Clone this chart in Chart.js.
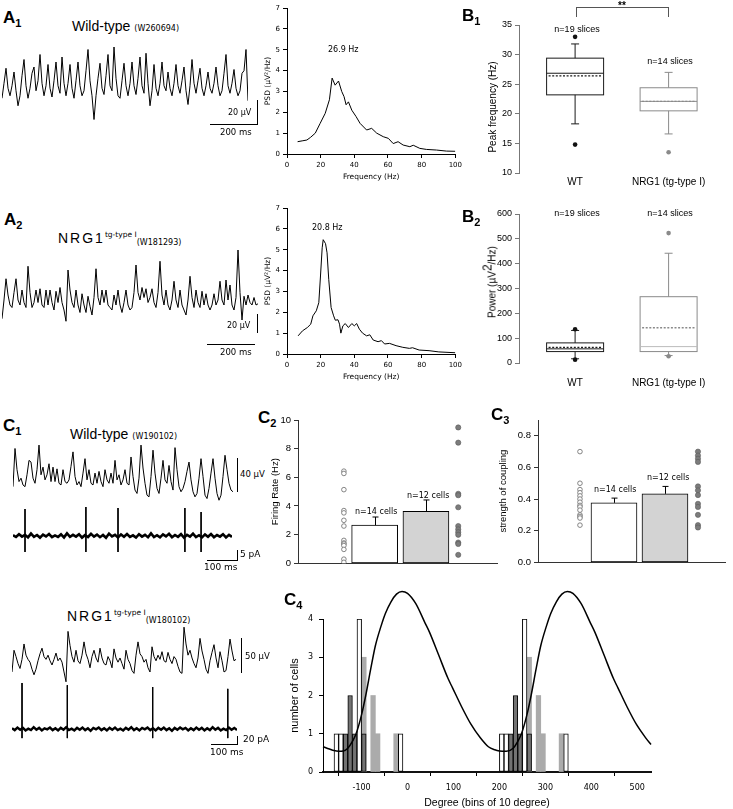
<!DOCTYPE html>
<html><head><meta charset="utf-8">
<script src="https://cdn.jsdelivr.net/npm/chart.js@4.4.1/dist/chart.umd.min.js"></script>
<style>
html,body{margin:0;padding:0;background:#fff}
body{width:733px;height:809px;position:relative;overflow:hidden}
canvas{position:absolute}
.t{position:absolute;white-space:nowrap;color:#000;line-height:1}
</style></head><body>
<script>
// ---------------- DATA ----------------
// A1 / A2 LFP traces (µV), uniform sampling
const a1Dt = 8.5; // ms per sample
const a1Trace = [0,12,24,8,2,10,21,6,-6,2,18,31,10,0,8,20,25,6,14,35,12,2,10,27,8,1,14,29,10,4,33,12,2,12,27,8,0,14,29,10,2,6,22,39,14,2,-17,2,16,28,8,3,18,35,10,6,41,16,2,0,14,28,10,2,12,29,10,3,16,33,10,4,36,12,-6,6,27,8,2,12,29,10,6,21,8,2,12,27,10,4,14,25,6,-5,10,31,12,4,14,24,8,2,10,21,8,4,12,25,10,2,6,20,35,10,4,12,23,8,2,6,20,22,39,-2];
const a2Dt = 8.5;
const a2Trace = [-7,8,25,12,4,2,14,25,8,4,16,6,2,35,14,2,6,16,6,17,4,2,16,4,16,6,0,15,6,18,6,0,-9,32,16,6,2,16,4,-2,13,4,-2,11,3,-4,10,33,10,4,16,6,16,4,2,0,12,4,16,4,-2,6,16,4,0,2,14,36,14,8,18,10,17,6,10,17,6,2,14,39,12,4,16,4,0,8,23,8,2,16,4,0,-4,8,27,10,2,16,6,2,15,4,13,4,0,4,13,4,8,23,8,4,24,8,20,4,0,10,48,14,-8,11,4,12,6,4,10,4,5];
// PSD spectra
const a1Freq = [6.3,9,11.8,14,16.8,19.7,22.7,25.2,26.8,28.6,30.6,32.5,33.9,35.1,36.5,38.5,41,43.4,47.3,50.3,53.3,57.2,60.2,63.1,66,69,73,75,78.9,82.8,88.8,94.7,100];
const a1Psd  = [0.59,0.63,0.67,0.8,1.0,1.47,1.95,2.6,3.64,3.3,3.5,3.0,2.75,2.36,2.5,2.1,1.8,1.47,1.15,1.23,1.0,0.83,0.75,0.5,0.59,0.43,0.35,0.42,0.27,0.22,0.19,0.14,0.13];
const a2Freq = [6.6,9.2,12.1,14.1,15.4,17.4,18.9,19.9,20.9,21.5,22.9,23.8,24.8,26.2,27.7,28.7,30.3,31.2,32,33.2,34.6,36.5,38.5,40,41.4,43,44.9,47.3,49.2,51.2,54.1,56.1,58,60.9,64.8,68.8,72.7,74.6,78.5,84.4,90.2,100];
const a2Psd  = [0.87,1.11,1.27,1.43,1.83,2.07,2.46,3.74,5.09,5.48,5.29,4.85,3.58,2.23,1.83,1.62,1.64,1.43,1.0,1.35,1.46,1.27,1.46,1.35,1.46,1.19,1.0,0.87,0.92,0.67,0.59,0.64,0.48,0.51,0.4,0.32,0.27,0.3,0.19,0.16,0.1,0.06];
// B box plots
const bGroups = ['WT','NRG1 (tg-type I)'];
const b1Q1 = [23.2,20.5], b1Median = [26.85,22.1], b1Q3 = [29.4,24.4], b1Mean = [26.4,22.1], b1WhiskLo = [18.3,16.6], b1WhiskHi = [31.8,27.0];
const b1OutWT = [33.0,14.8], b1OutNRG = [13.5];
const b2Q1 = [46,46], b2Median = [57,66], b2Q3 = [81,267], b2Mean = [63,142], b2WhiskLo = [17,30], b2WhiskHi = [131,442];
const b2OutWT = [136,13.5], b2OutNRG = [523,27];
// C1 traces
const c1WtDt = 6.67;
const c1WtLfp = [0,45,20,6,10,2,0,14,31,29,10,4,20,49,14,23,8,14,27,6,23,6,21,4,2,20,6,4,8,24,41,12,2,6,0,16,33,8,20,4,2,16,4,18,6,0,20,8,4,16,4,31,8,14,2,8,20,4,2,35,12,-4,-8,10,49,22,4,-10,-12,12,43,16,-2,-8,10,31,8,4,25,6,-4,46,20,0,-6,-2,6,18,29,8,-6,-12,-8,10,33,12,-10,-14,-2,16,33,10,-8,-16,-10,12,37,20,4,-4,-6];
const c1NrgDt = 7.4;
const c1NrgLfp = [-10,21,12,2,-5,8,30,14,8,4,-6,-14,-6,6,16,24,12,8,14,6,0,8,17,6,10,4,-10,-24,48,28,12,4,21,6,2,14,33,16,8,-4,12,21,10,4,24,10,2,0,12,6,-4,23,10,4,10,2,-6,21,8,2,-8,-12,14,33,16,12,4,8,-4,-10,26,12,6,14,8,19,6,4,18,8,2,12,8,-2,-10,-12,54,30,14,21,10,2,-4,10,38,20,8,-6,-12,6,18,29,10,-4,19,6,-10,-8,12,37,20,6,8];
const curDt = 10;
const wtCurNoise = [0.4,-0.5,0.9,-0.3,0.6,-0.7,1.2,-0.4,0.5,-0.8,0.7,-0.2,1.0,-0.6,0.3,-0.5,0.8,-0.7,1.3,-0.4,0.6,-0.3,0.9,-0.8,0.4,-0.5,1.1,-0.3,0.7,-0.6,0.5,-0.9,1.2,-0.2,0.6,-0.7,0.8,-0.4,1.0,-0.5,0.3,-0.8,0.9,-0.3,0.6,-0.6,1.3,-0.5,0.4,-0.7,0.8,-0.2,1.1,-0.6,0.5,-0.4,0.9,-0.8,0.6,-0.3,1.2,-0.5,0.4,-0.7,0.8,-0.4,1.0,-0.6,0.5,-0.3,0.9,-0.7,0.6,-0.4];
const wtSpikeT = [40,243,350,573,627], wtSpikeUp = [13.5,14.5,14,14,12], wtSpikeDn = [-8,-8,-8,-8,-8];
const nrgCurNoise = [2,-3,4,-2,3,-4,1,-3,5,-2,3,-4,2,-1,4,-3,2,-4,3,-2,5,-3,1,-4,3,-2,4,-3,2,-5,3,-1,4,-3,2,-4,3,-2,4,-3,1,-4,3,-2,5,-3,2,-4,3,-1,4,-3,2,-4,3,-2,4,-3,2,-5,3,-2,4,-1,3,-4,2,-3,4,-2,3,-4,2,-3,5,-2,3,-4,1,-3,4,-2,3,-3];
const nrgSpikeT = [37,204,519,796], nrgSpikeUp = [126,120,115,110], nrgSpikeDn = [-25,-25,-25,-25];
// C2 firing rate
const c2Mean = [2.66,3.63], c2Sem = [0.57,0.79];
const c2CellsWT = [6.43,6.27,5.14,3.68,3.52,3.0,2.6,1.6,1.42,1.35,1.24,0.97,0.29,0.07];
const c2CellsNRG = [9.48,8.42,4.85,4.75,3.91,2.6,2.37,2.17,1.99,1.45,1.35,0.59];
// C3 coupling
const c3Mean = [0.376,0.433], c3Sem = [0.03,0.047];
const c3CellsWT = [0.70,0.50,0.46,0.44,0.42,0.40,0.38,0.36,0.35,0.33,0.30,0.29,0.28,0.235];
const c3CellsNRG = [0.70,0.675,0.655,0.635,0.48,0.455,0.425,0.37,0.35,0.30,0.235,0.22];
// C4 phase histogram (bin centres, degrees) and fitted curve
const c4WhiteBins = [-155,-145,-105,-15,205,215,255,345], c4WhiteCounts = [1,1,4,1,1,1,4,1];
const c4DarkBins = [-135,-125,-115,-95,225,235,245,265], c4DarkCounts = [1,2,1,1,1,2,1,1];
const c4LightBins = [-95,-75,-65,-25,265,285,295,335], c4LightCounts = [3,2,1,1,3,2,1,1];
const c4CurveX = [-184,-170,-160,-150,-140,-130,-120,-112,-100,-91,-80,-70,-58,-48,-36,-24,-12,0,18,38,48,68,88,98,118,138,158,176,190,200,215,230,240,248,260,269,280,290,302,312,324,336,348,360,378,398,408,428,448,458,478,498,518,530];
const c4CurveY = [0.66,0.6,0.56,0.545,0.55,0.62,0.8,1.0,1.5,2.0,2.7,3.3,3.8,4.15,4.45,4.65,4.72,4.67,4.4,3.9,3.65,3.05,2.45,2.2,1.7,1.25,0.9,0.66,0.58,0.55,0.54,0.62,0.8,1.0,1.5,2.0,2.7,3.3,3.8,4.15,4.45,4.65,4.72,4.67,4.4,3.9,3.65,3.05,2.45,2.2,1.7,1.25,0.9,0.72];

// ---------------- SETUP ----------------
const FS = "'Liberation Sans', Arial, sans-serif";
const FD = "'DejaVu Sans', Verdana, sans-serif";
Chart.defaults.font.family = FS;
Chart.defaults.color = '#000';
Chart.defaults.animation = false;
Chart.defaults.responsive = false;
Chart.defaults.maintainAspectRatio = false;
Chart.defaults.devicePixelRatio = 1;
Chart.defaults.plugins.legend.display = false;
Chart.defaults.plugins.tooltip.enabled = false;

function cv(b){const c=document.createElement('canvas');c.width=b[2];c.height=b[3];c.style.left=b[0]+'px';c.style.top=b[1]+'px';c.style.width=b[2]+'px';c.style.height=b[3]+'px';document.body.appendChild(c);return c;}
function T(x,y,html,css){const d=document.createElement('div');d.className='t';d.style.left=x+'px';d.style.top=y+'px';if(css)d.style.cssText+=css;d.innerHTML=html;document.body.appendChild(d);return d;}
function L(x,y,w,h,c){const d=document.createElement('div');d.style.cssText=`position:absolute;left:${x}px;top:${y}px;width:${w}px;height:${h}px;background:${c||'#000'}`;document.body.appendChild(d);}
const hidden = (min,max)=>({type:'linear',display:false,min,max});

function trace(box, vals, dt, ymin, ymax, lw){
  new Chart(cv(box),{type:'line',data:{datasets:[{data:vals.map((v,i)=>({x:i*dt,y:v})),borderColor:'#000',borderWidth:lw,pointRadius:0,tension:0,clip:false}]},
    options:{layout:{padding:0},scales:{x:hidden(0,(vals.length-1)*dt),y:hidden(ymin,ymax)}}});
}
function current(box, noise, dt, spT, spUp, spDn, ymin, ymax, lw){
  const sp=[]; spT.forEach((t,i)=>{sp.push({x:t,y:spUp[i]},{x:t,y:spDn[i]},{x:t,y:null});});
  new Chart(cv(box),{type:'line',data:{datasets:[
    {data:noise.map((v,i)=>({x:i*dt,y:v})),borderColor:'#000',borderWidth:lw,pointRadius:0,tension:0,clip:false},
    {data:sp,borderColor:'#000',borderWidth:1,pointRadius:0,spanGaps:false,clip:false}]},
    options:{layout:{padding:0},scales:{x:hidden(0,(noise.length-1)*dt),y:hidden(ymin,ymax)}}});
}
function psdChart(box, f, v){
  const tk={font:{family:FD,size:7},padding:3};
  new Chart(cv(box),{type:'line',data:{datasets:[{data:f.map((x,i)=>({x,y:v[i]})),borderColor:'#000',borderWidth:1,pointRadius:0,tension:0}]},
    options:{layout:{padding:{top:8,right:9,bottom:4,left:0}},scales:{
      x:{type:'linear',min:0,max:100,ticks:{...tk,stepSize:20,maxRotation:0},grid:{drawOnChartArea:false,tickLength:4,color:'#000'},border:{color:'#000'},
         title:{display:true,text:'Frequency (Hz)',font:{family:FD,size:7.5},padding:{top:0,bottom:0}},afterFit(s){s.height=28;}},
      y:{type:'linear',min:0,max:7,ticks:{...tk,stepSize:1},grid:{drawOnChartArea:false,tickLength:4,color:'#000'},border:{color:'#000'},
         title:{display:true,text:'PSD (µV²/Hz)',font:{family:FD,size:7.5},padding:{top:6,bottom:0}},afterFit(s){s.width=29;}}}}});
}
function drawBoxes(chart, items){
  const {ctx,scales:{x,y}}=chart;
  items.forEach(b=>{
    const cx=x.getPixelForValue(b.x), hw=28.5, cap=4;
    const P=v=>y.getPixelForValue(v);
    ctx.save(); ctx.strokeStyle=b.color; ctx.lineWidth=1;
    ctx.beginPath();
    ctx.moveTo(cx,P(b.q3)); ctx.lineTo(cx,P(b.whi)); ctx.moveTo(cx-cap,P(b.whi)); ctx.lineTo(cx+cap,P(b.whi));
    ctx.moveTo(cx,P(b.q1)); ctx.lineTo(cx,P(b.wlo)); ctx.moveTo(cx-cap,P(b.wlo)); ctx.lineTo(cx+cap,P(b.wlo));
    ctx.stroke();
    ctx.strokeRect(cx-hw,P(b.q3),2*hw,P(b.q1)-P(b.q3));
    ctx.strokeStyle=b.medColor||b.color;
    ctx.beginPath(); ctx.moveTo(cx-hw,P(b.med)); ctx.lineTo(cx+hw,P(b.med)); ctx.stroke();
    ctx.strokeStyle=b.color; ctx.lineWidth=1.4; ctx.setLineDash([2,1.6]);
    ctx.beginPath(); ctx.moveTo(cx-hw+2,P(b.mean)); ctx.lineTo(cx+hw-2,P(b.mean)); ctx.stroke();
    ctx.restore();
  });
}
function boxChart(box, padTop, xh, xPad, ymin, ymax, step, items, outs){
  new Chart(cv(box),{type:'scatter',data:{datasets:outs.map(o=>({data:o.vals.map(v=>({x:o.x,y:v})),pointRadius:2.3,pointBackgroundColor:o.color,pointBorderWidth:0}))},
    options:{layout:{padding:{top:padTop,right:8.3,left:0,bottom:0}},scales:{
      x:{type:'linear',min:0.4,max:2.6,offset:false,afterBuildTicks(s){s.ticks=[{value:1},{value:2}];},ticks:{callback:v=>bGroups[v-1],font:{size:10},padding:xPad,autoSkip:false,maxRotation:0},
         grid:{display:false,drawTicks:false},border:{display:false},afterFit(s){s.height=xh;}},
      y:{type:'linear',min:ymin,max:ymax,ticks:{stepSize:step,font:{size:9},padding:3},grid:{drawOnChartArea:false,tickLength:4,color:'#777'},border:{color:'#777'},
         afterFit(s){s.width=39;}}}},
    plugins:[{id:'bx',beforeDatasetsDraw(c){drawBoxes(c,items);}}]});
}
function errDraw(chart, xs, means, sems){
  const {ctx,scales:{x,y}}=chart; ctx.save(); ctx.strokeStyle='#000'; ctx.lineWidth=1;
  xs.forEach((xv,i)=>{const px=Math.round(x.getPixelForValue(xv))+0.5, y0=y.getPixelForValue(means[i]), y1=y.getPixelForValue(means[i]+sems[i]);
    ctx.beginPath(); ctx.moveTo(px,y0); ctx.lineTo(px,y1); ctx.moveTo(px-3,y1); ctx.lineTo(px+3,y1); ctx.stroke();});
  ctx.restore();
}
function barChart(box, padRight, yw, xmin, xmax, colX, means, sems, wt, nrg, ymax, step, fmt, ytitle, titlePad){
  new Chart(cv(box),{type:'bar',data:{datasets:[
      {type:'bar',data:[{x:1,y:means[0]},{x:2,y:means[1]}],backgroundColor:['#ffffff','#d3d3d3'],borderColor:'#000',borderWidth:1,borderSkipped:false,barThickness:46,order:3},
      {type:'scatter',data:wt.map(v=>({x:colX[0],y:v})),pointRadius:2.3,pointBackgroundColor:'#fff',pointBorderColor:'#777',pointBorderWidth:0.9,order:1},
      {type:'scatter',data:nrg.map(v=>({x:colX[1],y:v})),pointRadius:2.6,pointBackgroundColor:'#7c7c7c',pointBorderColor:'#5a5a5a',pointBorderWidth:0.6,order:1}]},
    options:{layout:{padding:{top:10,right:padRight,left:0,bottom:0}},scales:{
      x:{type:'linear',min:xmin,max:xmax,offset:false,ticks:{display:false},grid:{display:false,drawTicks:false},border:{display:true,color:'#333'},afterFit(s){s.height=4;}},
      y:{type:'linear',min:0,max:ymax,ticks:{stepSize:step,includeBounds:false,font:{size:9.5},padding:3,callback:fmt},grid:{drawOnChartArea:false,tickLength:4,color:'#333'},border:{color:'#333'},
         title:{display:true,text:ytitle,font:{size:9.5},padding:{top:titlePad,bottom:0}},afterFit(s){s.width=yw;}}}},
    plugins:[{id:'eb',afterDatasetsDraw(c){errDraw(c,[1,2],means,sems);}}]});
}
// rotated axis title (HTML) centred on (cx, cy)
function VT(cx,cy,html,css){return T(cx,cy,html,`transform:translate(-50%,-50%) rotate(-90deg);transform-origin:center;`+(css||''));}

// ---------------- PANEL A ----------------
const PL = (l,s)=>`<span style="font:bold 17px ${FS}">${l}</span><span style="font:bold 11px ${FS};position:relative;top:4px">${s}</span>`;
T(3,8,PL('A','1'));
T(72,18,`<span style="font:14px ${FS}">Wild-type</span> <span style="font:8px ${FD}">(W260694)</span>`);
trace([2,45,246,80], a1Trace, a1Dt, -21.4, 42.6, 1);
L(257,100,1,25); L(210,124,48,1);
T(228,108,'20 µV',`font:8px ${FD}`); T(220,127,'200 ms',`font:8.5px ${FD}`);
psdChart([258,0,207,186], a1Freq, a1Psd);
T(328,45,'26.9 Hz',`font:8px ${FD}`);

T(4,210,PL('A','2'));
T(58,230,`<span style="font:14px ${FS};letter-spacing:2px">NRG1</span><span style="font:7.5px ${FD};position:relative;top:-6px">tg-type I</span><span style="font:8px ${FD};position:relative;top:2px">(W181293)</span>`);
trace([2,245,256,80], a2Trace, a2Dt, -12, 52, 1);
L(257,314,1,19); L(207,344,48,1);
T(227,321,'20 µV',`font:8px ${FD}`); T(220,347,'200 ms',`font:8.5px ${FD}`);
psdChart([258,200,207,186], a2Freq, a2Psd);
T(312,223,'20.8 Hz',`font:8px ${FD}`);

// ---------------- PANEL B ----------------
T(462,6,PL('B','1'));
boxChart([480,0,253,190],25,17,3,10,35,5,
  [{x:1,q1:b1Q1[0],med:b1Median[0],q3:b1Q3[0],mean:b1Mean[0],wlo:b1WhiskLo[0],whi:b1WhiskHi[0],color:'#1a1a1a'},
   {x:2,q1:b1Q1[1],med:b1Median[1],q3:b1Q3[1],mean:b1Mean[1],wlo:b1WhiskLo[1],whi:b1WhiskHi[1],color:'#8a8a8a'}],
  [{x:1,vals:b1OutWT,color:'#111'},{x:2,vals:b1OutNRG,color:'#8a8a8a'}]);
VT(492,107,'Peak frequency (Hz)',`font:10px ${FS}`);
L(576,7,93,1,'#555'); L(576,7,1,10,'#555'); L(668,7,1,10,'#555');
T(622,0,'**',`font:bold 10px ${FS};transform:translateX(-50%)`);
T(577,24,'n=19 slices',`font:9px ${FS};transform:translateX(-50%)`);
T(670,56,'n=14 slices',`font:9px ${FS};transform:translateX(-50%)`);

T(462,207,PL('B','2'));
boxChart([480,190,253,200],24,27,14,0,600,100,
  [{x:1,q1:b2Q1[0],med:b2Median[0],q3:b2Q3[0],mean:b2Mean[0],wlo:b2WhiskLo[0],whi:b2WhiskHi[0],color:'#1a1a1a'},
   {x:2,q1:b2Q1[1],med:b2Median[1],q3:b2Q3[1],mean:b2Mean[1],wlo:b2WhiskLo[1],whi:b2WhiskHi[1],color:'#8a8a8a',medColor:'#bbbbbb'}],
  [{x:1,vals:b2OutWT,color:'#111'},{x:2,vals:b2OutNRG,color:'#8a8a8a'}]);
VT(492,282,'Power (µV<sup style="font-size:12px;line-height:0">2</sup>/Hz)',`font:10px ${FS}`);
T(577,208,'n=19 slices',`font:9px ${FS};transform:translateX(-50%)`);
T(670,208,'n=14 slices',`font:9px ${FS};transform:translateX(-50%)`);

// ---------------- PANEL C1 ----------------
T(3,416,PL('C','1'));
T(70,426,`<span style="font:14px ${FS}">Wild-type</span> <span style="font:8px ${FD}">(W190102)</span>`);
trace([13,440,220,65], c1WtLfp, c1WtDt, -21.6, 55, 1);
L(237,458,1,34); T(240,469,'40 µV',`font:8.5px ${FD}`);
current([13,504,219,52], wtCurNoise, curDt, wtSpikeT, wtSpikeUp, wtSpikeDn, -10, 16, 2.6);
L(237,550,1,10); L(207,560,31,1);
T(240,549,'5 pA',`font:9px ${FD}`); T(204,562,'100 ms',`font:9px ${FD}`);

T(67,608,`<span style="font:14px ${FS};letter-spacing:2px">NRG1</span><span style="font:7.5px ${FD};position:relative;top:-6px">tg-type I</span><span style="font:8px ${FD};position:relative;top:2px">(W180102)</span>`);
trace([12,622,224,66], c1NrgLfp, c1NrgDt, -32.9, 61.4, 1);
L(241,638,1,35); T(245,651,'50 µV',`font:8.5px ${FD}`);
current([12,680,225,62], nrgCurNoise, curDt, nrgSpikeT, nrgSpikeUp, nrgSpikeDn, -35.6, 134.2, 2.4);
L(237,736,1,8); L(211,744,27,1);
T(243,734,'20 pA',`font:9px ${FD}`); T(210,747,'100 ms',`font:9px ${FD}`);

// ---------------- PANEL C2 / C3 ----------------
T(258,408,PL('C','2'));
barChart([262,410,240,162],4,36,-0.495,3.388,[0.4,2.63],c2Mean,c2Sem,c2CellsWT,c2CellsNRG,10,2,v=>v,'Firing Rate (Hz)',7.6);
T(355,507,'n=14 cells',`font:8px ${FD}`); T(407,491,'n=12 cells',`font:8px ${FD}`);

T(491,405,PL('C','3'));
barChart([494,410,239,161],8,44,-0.49,3.177,[0.333,2.647],c3Mean,c3Sem,c3CellsWT,c3CellsNRG,0.9,0.2,v=>v.toFixed(1),'strength of coupling',3.3);
T(594,485,'n=14 cells',`font:8px ${FD}`); T(647,473,'n=12 cells',`font:8px ${FD}`);

// ---------------- PANEL C4 ----------------
T(284,590,PL('C','4'));
const hb = (bins,counts)=>bins.map((b,i)=>({x:b,y:counts[i]}));
new Chart(cv([280,580,380,229]),{type:'bar',data:{datasets:[
    {type:'bar',data:hb(c4LightBins,c4LightCounts),backgroundColor:'#ababab',borderWidth:0,grouped:false,barPercentage:1,categoryPercentage:1,order:5},
    {type:'bar',data:hb(c4WhiteBins,c4WhiteCounts),backgroundColor:'#ffffff',borderColor:'#000',borderWidth:1,borderSkipped:false,grouped:false,barPercentage:1,categoryPercentage:1,order:3},
    {type:'bar',data:hb(c4DarkBins,c4DarkCounts),backgroundColor:'#737373',borderColor:'#000',borderWidth:1,borderSkipped:false,grouped:false,barPercentage:1,categoryPercentage:1,order:3},
    {type:'line',data:c4CurveX.map((x,i)=>({x,y:c4CurveY[i]})),borderColor:'#000',borderWidth:1.5,pointRadius:0,tension:0.4,cubicInterpolationMode:'monotone',clip:false,order:0}]},
  options:{layout:{padding:{top:39,right:9,left:0,bottom:0}},scales:{
    x:{type:'linear',min:-184,max:530,offset:false,ticks:{stepSize:100,includeBounds:false,font:{family:FD,size:8},padding:7,maxRotation:0},grid:{drawOnChartArea:false,tickLength:4,color:'#000'},border:{color:'#111',width:2},
       title:{display:true,text:'Degree (bins of 10 degree)',font:{size:10.5},padding:{top:0,bottom:0}},afterFit(s){s.height=37;}},
    y:{type:'linear',min:0,max:4,ticks:{stepSize:1,font:{family:FD,size:8},padding:6},grid:{drawOnChartArea:false,tickLength:4,color:'#000'},border:{color:'#000'},
       title:{display:true,text:'number of cells',font:{size:11},padding:{top:8,bottom:0}},afterFit(s){s.width=43;}}}}});
</script>
</body></html>
